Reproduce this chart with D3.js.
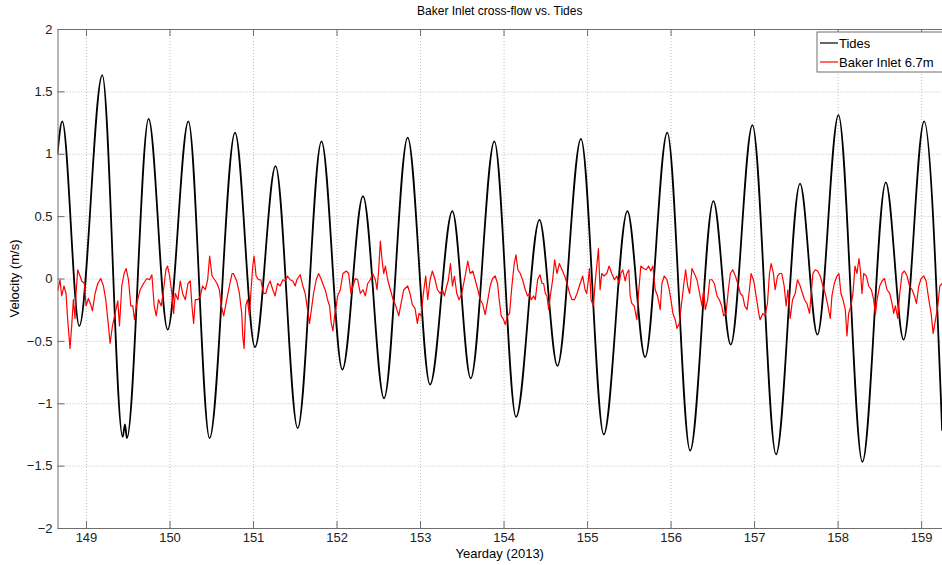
<!DOCTYPE html>
<html>
<head>
<meta charset="utf-8">
<script src="https://cdn.jsdelivr.net/npm/d3@7"></script>
<style>
  body { margin: 0; background: #fff; }
  svg { display: block; font-family: "Liberation Sans", Arial, sans-serif; }
  .grid line { stroke: #bdbdbd; stroke-dasharray: 1,2; }
  .grid path { display: none; }
  .axis path, .axis line { stroke: #6e6e6e; }
  .axis text { fill: #222; font-size: 13px; }
</style>
</head>
<body>
<div id="chart"></div>
<script>
  var width = 942,
      height = 565,
      margin = {top: 29, right: 0, bottom: 37, left: 57.5};

  // x range of the axes (yearday) and y range (m/s)
  var dayMin = 148.659,
      dayMax = 159.25;
  var xTicks = [149, 150, 151, 152, 153, 154, 155, 156, 157, 158, 159];
  var yTicks = [-2, -1.5, -1, -0.5, 0, 0.5, 1, 1.5, 2];

  // Tides: turning points [yearday, velocity]
  var tides = [
    [148.659, 1.00], [148.716, 1.26], [148.920, -0.38], [149.195, 1.63],
    [149.440, -1.27], [149.467, -1.17], [149.490, -1.28], [149.750, 1.28],
    [149.978, -0.41], [150.226, 1.26], [150.480, -1.28], [150.785, 1.17],
    [151.024, -0.55], [151.270, 0.90], [151.535, -1.20], [151.820, 1.10],
    [152.070, -0.73], [152.317, 0.66], [152.569, -0.96], [152.852, 1.13],
    [153.120, -0.85], [153.387, 0.54], [153.607, -0.80], [153.890, 1.10],
    [154.150, -1.11], [154.430, 0.47], [154.645, -0.70], [154.927, 1.12],
    [155.200, -1.25], [155.483, 0.54], [155.695, -0.63], [155.960, 1.17],
    [156.234, -1.38], [156.513, 0.62], [156.720, -0.53], [156.980, 1.23],
    [157.263, -1.41], [157.550, 0.76], [157.758, -0.45], [158.010, 1.31],
    [158.297, -1.47], [158.577, 0.77], [158.790, -0.49], [159.036, 1.26],
    [159.252, -1.22]
  ];

  // Baker Inlet 6.7m cross-flow [yearday, velocity]
  var baker = [
    [148.661, -0.10], [148.689, -0.01], [148.709, -0.14], [148.737, -0.06],
    [148.761, -0.12], [148.781, -0.33], [148.809, -0.56], [148.829, -0.38],
    [148.849, -0.17], [148.869, -0.32], [148.881, -0.12], [148.901, 0.07],
    [148.929, 0.02], [148.949, -0.02], [148.981, -0.04], [149.001, -0.22],
    [149.029, -0.16], [149.057, -0.21], [149.077, -0.26], [149.109, -0.12],
    [149.141, -0.04], [149.177, 0.00], [149.209, -0.06], [149.237, -0.17],
    [149.269, -0.38], [149.289, -0.52], [149.317, -0.38], [149.349, -0.28],
    [149.381, -0.18], [149.401, -0.38], [149.429, -0.06], [149.457, 0.04],
    [149.481, 0.08], [149.509, -0.01], [149.537, -0.22], [149.561, -0.22],
    [149.581, -0.33], [149.609, -0.20], [149.649, -0.09], [149.689, -0.04],
    [149.729, 0.00], [149.761, -0.01], [149.789, 0.03], [149.817, -0.22],
    [149.841, -0.30], [149.869, -0.17], [149.901, -0.22], [149.929, -0.09],
    [149.957, 0.07], [149.977, 0.10], [150.001, 0.02], [150.029, -0.12],
    [150.049, -0.28], [150.069, -0.12], [150.101, -0.17], [150.129, -0.02],
    [150.157, -0.12], [150.189, -0.17], [150.221, -0.04], [150.249, -0.02],
    [150.269, -0.22], [150.289, -0.36], [150.309, -0.17], [150.341, -0.17],
    [150.369, -0.14], [150.397, -0.06], [150.429, -0.09], [150.457, -0.01],
    [150.481, 0.18], [150.509, 0.02], [150.541, -0.01], [150.569, -0.04],
    [150.597, -0.09], [150.621, -0.22], [150.649, -0.30], [150.677, -0.20],
    [150.709, -0.09], [150.749, 0.04], [150.765, 0.04], [150.805, -0.02],
    [150.837, -0.12], [150.865, -0.28], [150.877, -0.46], [150.893, -0.56],
    [150.913, -0.22], [150.933, -0.17], [150.957, -0.30], [150.977, -0.09],
    [150.997, 0.10], [151.013, 0.18], [151.037, 0.02], [151.065, -0.01],
    [151.093, -0.01], [151.125, -0.12], [151.153, -0.12], [151.177, -0.06],
    [151.205, -0.02], [151.237, -0.09], [151.265, -0.14], [151.293, -0.04],
    [151.325, -0.06], [151.357, -0.01], [151.385, -0.02], [151.413, 0.02],
    [151.445, -0.01], [151.477, -0.02], [151.505, -0.06], [151.525, -0.01],
    [151.565, 0.03], [151.597, -0.06], [151.625, -0.12], [151.653, -0.25],
    [151.677, -0.36], [151.705, -0.22], [151.725, -0.12], [151.757, -0.01],
    [151.785, 0.04], [151.813, 0.00], [151.845, -0.06], [151.865, -0.09],
    [151.893, -0.17], [151.917, -0.22], [151.937, -0.36], [151.957, -0.42],
    [151.977, -0.30], [151.997, -0.22], [152.013, -0.14], [152.045, -0.09],
    [152.077, 0.04], [152.117, 0.06], [152.145, 0.04], [152.173, -0.12],
    [152.197, -0.06], [152.225, 0.00], [152.253, -0.01], [152.285, -0.12],
    [152.317, -0.09], [152.345, -0.14], [152.373, -0.04], [152.405, -0.01],
    [152.433, 0.04], [152.465, -0.01], [152.485, -0.09], [152.505, 0.07],
    [152.525, 0.30], [152.545, 0.15], [152.565, 0.04], [152.585, 0.10],
    [152.613, -0.01], [152.645, -0.09], [152.677, -0.17], [152.705, -0.21],
    [152.745, -0.30], [152.773, -0.20], [152.805, -0.09], [152.852, -0.06],
    [152.880, -0.12], [152.908, -0.21], [152.940, -0.24], [152.968, -0.36],
    [152.988, -0.28], [153.012, -0.30], [153.040, -0.12], [153.068, 0.02],
    [153.092, -0.17], [153.120, -0.01], [153.148, 0.06], [153.180, -0.01],
    [153.208, -0.09], [153.240, -0.12], [153.268, -0.09], [153.292, -0.14],
    [153.320, -0.06], [153.340, -0.01], [153.364, 0.12], [153.388, -0.06],
    [153.412, 0.02], [153.440, -0.12], [153.468, -0.17], [153.500, -0.12],
    [153.540, 0.02], [153.572, 0.14], [153.600, 0.04], [153.632, 0.06],
    [153.660, -0.01], [153.692, -0.09], [153.720, -0.17], [153.748, -0.20],
    [153.780, -0.29], [153.812, -0.17], [153.840, -0.06], [153.868, 0.00],
    [153.900, 0.02], [153.928, -0.04], [153.948, -0.17], [153.972, -0.30],
    [154.000, -0.33], [154.020, -0.37], [154.048, -0.30], [154.072, -0.28],
    [154.100, -0.06], [154.128, 0.12], [154.148, 0.19], [154.172, 0.07],
    [154.200, 0.04], [154.228, -0.01], [154.260, -0.09], [154.288, -0.14],
    [154.308, -0.12], [154.332, -0.17], [154.360, -0.14], [154.380, -0.17],
    [154.408, -0.01], [154.436, 0.03], [154.460, -0.04], [154.480, -0.04],
    [154.500, -0.12], [154.520, -0.14], [154.540, -0.25], [154.564, -0.12],
    [154.588, -0.01], [154.612, 0.15], [154.640, 0.04], [154.668, 0.12],
    [154.700, 0.07], [154.732, 0.02], [154.760, -0.04], [154.792, -0.12],
    [154.820, -0.17], [154.848, -0.17], [154.880, -0.12], [154.908, -0.06],
    [154.948, 0.02], [154.976, -0.09], [154.996, -0.12], [155.016, -0.01],
    [155.028, 0.08], [155.048, -0.17], [155.076, -0.22], [155.096, -0.04],
    [155.116, 0.10], [155.136, 0.24], [155.156, -0.09], [155.176, 0.04],
    [155.204, 0.02], [155.236, 0.04], [155.264, 0.10], [155.296, 0.04],
    [155.328, -0.01], [155.356, 0.02], [155.384, -0.04], [155.404, 0.04],
    [155.428, 0.07], [155.456, -0.02], [155.476, 0.04], [155.500, 0.07],
    [155.516, -0.14], [155.536, -0.20], [155.564, -0.22], [155.596, -0.33],
    [155.616, -0.12], [155.644, 0.10], [155.676, 0.08], [155.708, 0.07],
    [155.736, 0.10], [155.764, 0.06], [155.788, 0.10], [155.816, -0.09],
    [155.844, -0.14], [155.876, -0.25], [155.896, -0.04], [155.924, 0.02],
    [155.956, -0.01], [155.984, -0.09], [156.004, -0.17], [156.028, -0.28],
    [156.056, -0.33], [156.076, -0.40], [156.104, -0.36], [156.128, -0.22],
    [156.156, -0.06], [156.180, 0.07], [156.204, -0.06], [156.228, -0.12],
    [156.256, 0.08], [156.284, 0.04], [156.316, -0.01], [156.348, -0.12],
    [156.376, -0.22], [156.396, -0.09], [156.416, -0.25], [156.444, -0.17],
    [156.468, -0.01], [156.496, -0.01], [156.524, -0.04], [156.556, -0.14],
    [156.584, -0.17], [156.612, -0.22], [156.636, -0.30], [156.664, -0.28],
    [156.692, -0.09], [156.716, 0.04], [156.744, 0.07], [156.776, 0.02],
    [156.804, -0.04], [156.836, -0.12], [156.864, -0.14], [156.888, -0.22],
    [156.916, -0.25], [156.944, -0.09], [156.964, 0.04], [156.996, -0.02],
    [157.024, -0.14], [157.056, -0.28], [157.072, -0.33], [157.104, -0.28],
    [157.132, -0.30], [157.160, -0.20], [157.184, 0.04], [157.204, 0.12],
    [157.232, 0.04], [157.252, -0.09], [157.280, 0.02], [157.304, 0.04],
    [157.332, 0.04], [157.360, -0.06], [157.384, -0.22], [157.404, -0.09],
    [157.432, -0.32], [157.460, -0.17], [157.492, -0.12], [157.520, -0.01],
    [157.552, -0.06], [157.580, -0.12], [157.604, -0.17], [157.632, -0.20],
    [157.664, -0.28], [157.684, -0.12], [157.704, 0.04], [157.732, 0.07],
    [157.760, 0.06], [157.792, 0.02], [157.824, -0.06], [157.852, -0.12],
    [157.884, -0.22], [157.912, -0.32], [157.932, -0.14], [157.960, -0.04],
    [157.992, 0.02], [158.016, 0.04], [158.040, -0.12], [158.064, -0.17],
    [158.092, -0.25], [158.112, -0.46], [158.132, -0.28], [158.160, -0.22],
    [158.184, -0.12], [158.208, 0.10], [158.232, 0.04], [158.256, 0.16],
    [158.272, 0.07], [158.292, -0.12], [158.312, 0.04], [158.344, 0.02],
    [158.372, -0.06], [158.404, -0.09], [158.432, -0.17], [158.452, -0.29],
    [158.472, -0.17], [158.504, -0.06], [158.532, -0.02], [158.560, 0.00],
    [158.592, -0.09], [158.624, -0.12], [158.652, -0.20], [158.672, -0.28],
    [158.692, -0.22], [158.720, -0.32], [158.744, -0.12], [158.772, 0.04],
    [158.800, 0.06], [158.832, 0.02], [158.860, -0.06], [158.892, -0.09],
    [158.920, -0.14], [158.944, -0.20], [158.972, -0.06], [159.000, 0.00],
    [159.032, 0.02], [159.060, -0.02], [159.092, -0.17], [159.120, -0.28],
    [159.144, -0.44], [159.172, -0.33], [159.200, -0.22], [159.224, -0.06],
    [159.252, -0.04]
  ];

  var legendLabels = ["Tides", "Baker Inlet 6.7m"];
  var legendColors = ["#000000", "#ff0000"];

  var x = d3.scaleLinear()
      .domain([dayMin, dayMax])
      .range([margin.left, width - margin.right]);
  var y = d3.scaleLinear()
      .domain([-2, 2])
      .range([height - margin.bottom, margin.top]);

  var svg = d3.select("#chart")
      .append("svg")
      .attr("width", width)
      .attr("height", height);

  svg.append("defs").append("clipPath")
      .attr("id", "plotclip")
    .append("rect")
      .attr("x", x.range()[0])
      .attr("y", y.range()[1])
      .attr("width", x.range()[1] - x.range()[0])
      .attr("height", y.range()[0] - y.range()[1]);

  // dotted grid
  svg.append("g")
      .attr("class", "grid")
      .attr("transform", "translate(0," + y.range()[0] + ")")
      .call(d3.axisBottom(x).tickValues(xTicks).tickSize(-(y.range()[0] - y.range()[1])).tickFormat(""));
  svg.append("g")
      .attr("class", "grid")
      .attr("transform", "translate(" + x.range()[0] + ",0)")
      .call(d3.axisLeft(y).tickValues(yTicks).tickSize(-(x.range()[1] - x.range()[0])).tickFormat(""));

  // lines
  var plot = svg.append("g").attr("clip-path", "url(#plotclip)");

  var tideLine = d3.line()
      .x(function(d) { return x(d[0]); })
      .y(function(d) { return y(d[1]); })
      .curve(d3.curveMonotoneX);
  var flowLine = d3.line()
      .x(function(d) { return x(d[0]); })
      .y(function(d) { return y(d[1]); });

  plot.append("path")
      .datum(tides)
      .attr("d", tideLine)
      .attr("fill", "none")
      .attr("stroke", legendColors[0])
      .attr("stroke-width", 1.8);
  plot.append("path")
      .datum(baker)
      .attr("d", flowLine)
      .attr("fill", "none")
      .attr("stroke", legendColors[1])
      .attr("stroke-width", 1.2)
      .attr("stroke-linejoin", "round");

  // axes, ticks pointing in (MATLAB style)
  svg.append("g")
      .attr("class", "axis")
      .attr("transform", "translate(0," + y.range()[0] + ")")
      .call(d3.axisBottom(x).tickValues(xTicks).tickSizeInner(-7).tickSizeOuter(0).tickPadding(5).tickFormat(d3.format("d")));
  svg.append("g")
      .attr("class", "axis")
      .attr("transform", "translate(0," + y.range()[1] + ")")
      .call(d3.axisTop(x).tickValues(xTicks).tickSizeInner(-7).tickSizeOuter(0).tickFormat(""));
  svg.append("g")
      .attr("class", "axis")
      .attr("transform", "translate(" + x.range()[0] + ",0)")
      .call(d3.axisLeft(y).tickValues(yTicks).tickSizeInner(-7).tickSizeOuter(0).tickPadding(5).tickFormat(d3.format("")));

  svg.selectAll(".axis text").style("font-size", "13px");

  // labels
  svg.append("text")
      .attr("x", (x.range()[0] + x.range()[1]) / 2)
      .attr("y", 15)
      .attr("text-anchor", "middle")
      .style("font-size", "12px")
      .text("Baker Inlet cross-flow vs. Tides");
  svg.append("text")
      .attr("x", (x.range()[0] + x.range()[1]) / 2)
      .attr("y", 558)
      .attr("text-anchor", "middle")
      .style("font-size", "13px")
      .text("Yearday (2013)");
  svg.append("text")
      .attr("transform", "translate(19," + (y.range()[0] + y.range()[1]) / 2 + ") rotate(-90)")
      .attr("text-anchor", "middle")
      .style("font-size", "13px")
      .text("Velocity (m/s)");

  // legend
  var legend = svg.append("g").attr("transform", "translate(817,32)");
  legend.append("rect")
      .attr("width", 130)
      .attr("height", 40)
      .attr("fill", "#fff")
      .attr("stroke", "#6e6e6e");
  legendLabels.forEach(function(label, i) {
    legend.append("line")
        .attr("x1", 3).attr("x2", 21)
        .attr("y1", 11 + i * 19).attr("y2", 11 + i * 19)
        .attr("stroke", legendColors[i])
        .attr("stroke-width", 1.2);
    legend.append("text")
        .attr("x", 22)
        .attr("y", 16 + i * 19)
        .style("font-size", "13px")
        .text(label);
  });
</script>
</body>
</html>
